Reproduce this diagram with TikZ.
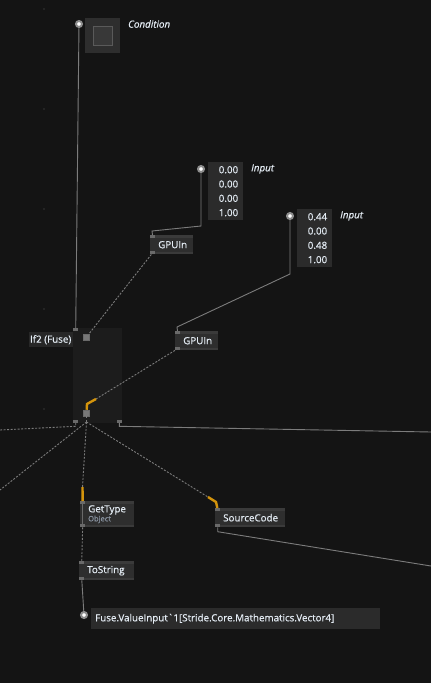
\documentclass[tikz,border=0pt]{standalone}
\usepackage{fontspec}
\setmainfont{Open Sans}[BoldFont=Open Sans, BoldFeatures={FakeBold=0.6}, BoldItalicFont=Open Sans Italic, BoldItalicFeatures={FakeBold=0.6}]
\definecolor{bgc}{HTML}{141414}
\definecolor{boxc}{HTML}{2E2E2E}
\definecolor{bandc}{HTML}{3A3A3A}
\definecolor{valc}{HTML}{2B2B2B}
\definecolor{regionc}{HTML}{1C1C1C}
\definecolor{lblc}{HTML}{272727}
\definecolor{portc}{HTML}{6A6A6A}
\definecolor{sqc}{HTML}{777777}
\definecolor{pinc}{HTML}{8C8C8C}
\definecolor{wirec}{HTML}{7C7C7C}
\definecolor{orangec}{HTML}{D4940C}
\definecolor{txtc}{HTML}{E4ECF4}
\definecolor{subc}{HTML}{8B95A3}
\definecolor{dotc}{HTML}{5A5A5A}
\begin{document}
\begin{tikzpicture}[x=1pt, y=-1pt,
  font=\fontsize{9.8}{11}\selectfont\bfseries, text=txtc,
  wire/.style={draw=wirec, line width=0.9pt},
  dwire/.style={draw=wirec, line width=0.9pt, dash pattern=on 2pt off 1.5pt},
  hook/.style={draw=orangec, line width=2.4pt},
  port/.style={fill=portc, minimum width=5pt, minimum height=3pt, inner sep=0pt, anchor=north west},
  sqport/.style={fill=sqc, draw=portc, line width=0.5pt, minimum size=6pt, inner sep=0pt},
  iopin/.style={circle, draw=pinc, fill=white, line width=2pt, minimum size=6pt, inner sep=0pt},
  nodebox/.style={fill=boxc, anchor=north west, inner xsep=8pt, inner ysep=0pt, align=left,
    path picture={
      \fill[bandc] (path picture bounding box.north west) rectangle ([yshift=-2.5pt]path picture bounding box.north east);
      \fill[bandc] (path picture bounding box.south west) rectangle ([yshift=2.5pt]path picture bounding box.south east);}},
  valbox/.style={fill=valc, anchor=north west, inner xsep=5pt, inner ysep=0pt, align=right, text width=25pt,
    minimum height=58pt, font=\fontsize{9.8}{14.3}\selectfont\bfseries},
  tag/.style={anchor=west, inner sep=0pt, font=\fontsize{9.8}{11}\selectfont\bfseries\itshape}]
  \useasboundingbox (0,0) rectangle (431,683);
  \fill[bgc] (0,0) rectangle (431,683);
  \foreach \y in {9,109,209,309,409}
    \fill[dotc] (44,\y) circle (0.6pt);

  \node[fill=boxc, minimum size=35pt, inner sep=0pt, anchor=north west] (condbox) at (85,18) {};
  \node[draw=dotc, fill=bandc!80!boxc, line width=1.2pt, minimum size=19pt, inner sep=0pt] (condsq) at (condbox.center) {};
  \node[iopin] (condpin) at (79,24) {};
  \node[tag] (condtag) at (128,24) {Condition};

  \node[iopin] (in1pin) at (201,169) {};
  \node[valbox] (in1val) at (208,162) {0.00\\0.00\\0.00\\1.00};
  \node[tag] (in1tag) at (251,169) {Input};
  \node[iopin] (in2pin) at (290,216) {};
  \node[valbox] (in2val) at (297,209) {0.44\\0.00\\0.48\\1.00};
  \node[tag] (in2tag) at (340,216) {Input};

  \node[nodebox, minimum height=19pt, text width=27pt] (gpu1) at (150,235) {GPUIn};
  \node[port] (gpu1in) at (gpu1.north west) {};
  \node[port, anchor=south west] (gpu1out) at (gpu1.south west) {};
  \node[nodebox, minimum height=19pt, text width=27pt] (gpu2) at (175,331) {GPUIn};
  \node[port] (gpu2in) at (gpu2.north west) {};
  \node[port, anchor=south west] (gpu2out) at (gpu2.south west) {};

  \node[fill=regionc, minimum width=49pt, minimum height=95pt, inner sep=0pt, anchor=north west] (ifbody) at (73,328) {};
  \node[fill=lblc, anchor=north east, inner xsep=1.5pt, inner ysep=0pt, minimum height=15pt] (iflbl) at (73,332) {If2 (Fuse)};
  \node[port] (ifin) at (73,328) {};
  \node[sqport] (ifsq1) at (86.5,337) {};
  \node[sqport] (ifsq2) at (86.5,413) {};
  \node[port, anchor=south west] (ifout1) at (73,423) {};
  \node[port, anchor=south east] (ifout2) at (122,423) {};
  \coordinate (ifhook) at (96,399);
  \coordinate (ifhub) at (86.5,422);

  \node[nodebox, minimum height=26pt, text width=38pt] (gettype) at (80,501) {GetType\\[-2pt]{\fontsize{7.5}{8}\selectfont\color{subc}Object}};
  \node[port] (gtin) at (gettype.north west) {};
  \node[port, anchor=south west] (gtout) at (gettype.south west) {};
  \coordinate (gthook) at (82.5,487);
  \node[nodebox, minimum height=19pt, text width=39pt] (tostr) at (79,561) {ToString};
  \node[port] (tsin) at (tostr.north west) {};
  \node[port, anchor=south west] (tsout) at (tostr.south west) {};
  \node[nodebox, minimum height=19pt, text width=54pt] (srccode) at (215,508) {SourceCode};
  \node[port] (scin) at (srccode.north west) {};
  \node[port, anchor=south west] (scout) at (srccode.south west) {};
  \coordinate (schook) at (208,497);

  \node[iopin] (outpin) at (84,615) {};
  \node[fill=valc, anchor=north west, inner xsep=4pt, inner ysep=0pt, minimum height=21pt, text width=281pt, align=left] (outval) at (91,608) {Fuse.ValueInput\textasciigrave 1[Stride.Core.Mathematics.Vector4]};

  \coordinate (offl1) at (0,430);
  \coordinate (offl2) at (0,490);
  \coordinate (offr1) at (431,432);
  \coordinate (offr2) at (431,566);

  \draw[wire] (condpin) -- (ifin);
  \draw[wire] (in1pin) -- ++(0,57) -- ++(-49,5) -- (gpu1in);
  \draw[wire] (in2pin) -- ++(0,58) -- ++(-113,53) -- (gpu2in);
  \draw[dwire] (gpu1out) -- (ifsq1);
  \draw[dwire] (gpu2out) -- (ifhook);
  \draw[hook] (ifhook) -- ++(-9,5) -- (ifsq2);
  \draw[dwire] (ifsq2) -- (ifhub);
  \draw[dwire] (ifout1) -- ++(0,5) -- (offl1);
  \draw[wire] (ifout2) -- ++(0,5) -- (offr1);
  \draw[dwire] (ifhub) -- (offl2);
  \draw[dwire] (ifhub) -- (gthook);
  \draw[hook] (gthook) -- (gtin);
  \draw[dwire] (ifhub) -- (schook);
  \draw[hook] (schook) -- ++(8,5) -- (scin);
  \draw[portc, line width=1pt] (gtin) -- (gtout);
  \draw[dwire] (gtout) -- (tsin);
  \draw[wire] (tsout) -- (outpin);
  \draw[wire] (scout) -- ++(0,6) -- (offr2);
\end{tikzpicture}
\end{document}
